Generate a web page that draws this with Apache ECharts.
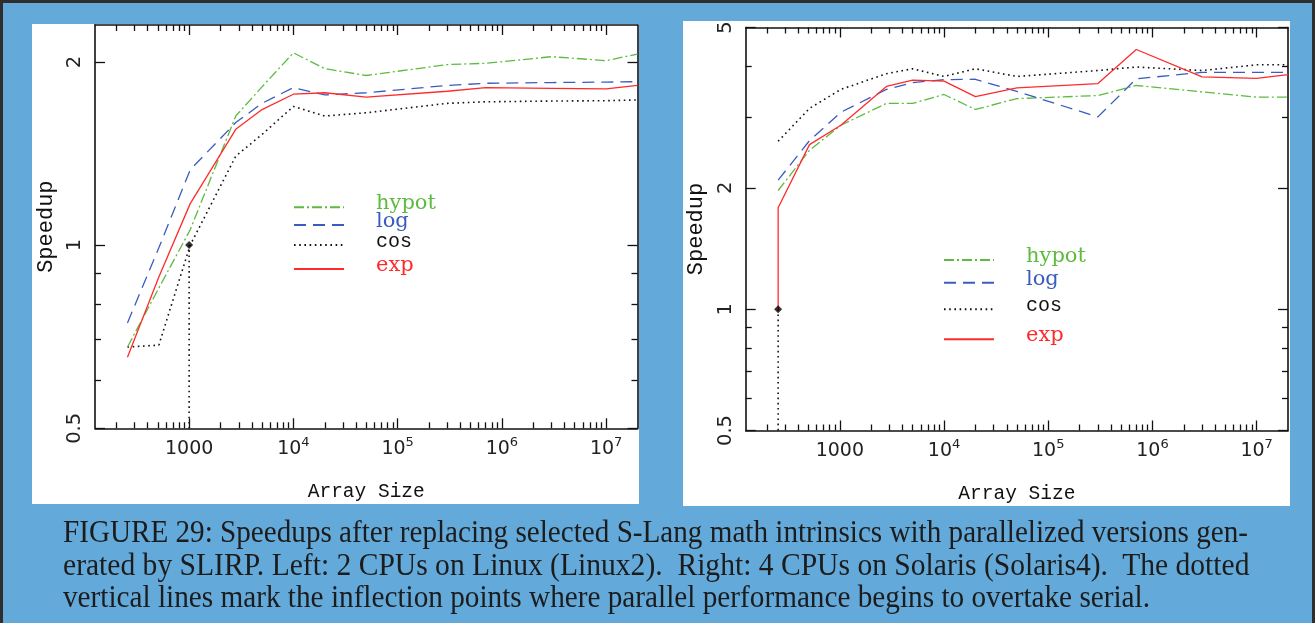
<!DOCTYPE html>
<html>
<head>
<meta charset="utf-8">
<script src="https://cdn.jsdelivr.net/npm/echarts@6/dist/echarts.min.js"></script>
<style>
html,body{margin:0;padding:0;}
body{width:1315px;height:623px;background:#63a9d9;position:relative;overflow:hidden;}
.edge{position:absolute;background:#2e2e2e;}
.panel{position:absolute;background:#ffffff;}
#chart{position:absolute;left:0;top:0;width:1315px;height:623px;}
.cap{position:absolute;left:63px;font-family:"Liberation Serif",serif;font-size:31px;line-height:31px;color:#1c1c1c;white-space:pre;transform-origin:0 0;}
</style>
</head>
<body>
<div class="edge" style="left:0;top:0;width:1315px;height:3px"></div>
<div class="edge" style="left:0;top:0;width:3px;height:623px"></div>
<div class="edge" style="right:0;top:0;width:3px;height:623px"></div>
<div class="panel" style="left:32px;top:24px;width:607px;height:480px"></div>
<div class="panel" style="left:683px;top:21px;width:607px;height:485px"></div>
<div id="chart"></div>
<div id="caption"></div>
<script>
// ---------------- data ----------------
const arraySizes = [256, 512, 1024, 2800, 5000, 10000, 20000, 50000, 300000, 700000, 3000000, 10000000, 20000000];

// Left: Linux2 (2 CPUs)
const linuxHypot = [0.68, 0.85, 1.06, 1.63, 1.82, 2.07, 1.95, 1.90, 1.98, 1.99, 2.04, 2.01, 2.06];
const linuxLog   = [0.745, 0.99, 1.33, 1.59, 1.71, 1.815, 1.765, 1.78, 1.83, 1.845, 1.85, 1.853, 1.856];
const linuxCos   = [0.68, 0.685, 1.0, 1.40, 1.52, 1.69, 1.63, 1.65, 1.71, 1.72, 1.725, 1.727, 1.732];
const linuxExp   = [0.654, 0.886, 1.17, 1.55, 1.67, 1.77, 1.78, 1.75, 1.79, 1.815, 1.81, 1.806, 1.83];
const linuxInflection = [1000, 1];

// Right: Solaris4 (4 CPUs)
const solarisHypot = [1.97, 2.48, 2.86, 3.24, 3.24, 3.41, 3.13, 3.33, 3.39, 3.59, 3.46, 3.36, 3.36];
const solarisLog   = [2.09, 2.62, 3.08, 3.51, 3.65, 3.71, 3.72, 3.47, 3.0, 3.73, 3.87, 3.87, 3.87];
const solarisCos   = [2.61, 3.15, 3.51, 3.84, 3.95, 3.78, 3.95, 3.78, 3.91, 3.99, 3.91, 4.04, 4.04];
const solarisExpSizes = [256, 256, 512, 1024, 2800, 5000, 10000, 20000, 50000, 300000, 700000, 3000000, 10000000, 20000000];
const solarisExp      = [1.0, 1.785, 2.56, 2.86, 3.57, 3.70, 3.68, 3.37, 3.54, 3.63, 4.41, 3.77, 3.74, 3.82];
const solarisInflection = [256, 1];

// ticks
const xMajorTicks  = [1000, 10000, 100000, 1000000, 10000000];
const xMajorLabels = ['1000', '10^4', '10^5', '10^6', '10^7'];
const xMinorMultipliers = [2, 3, 4, 5, 6, 7, 8, 9];
const xMinorDecades = [100, 1000, 10000, 100000, 1000000];
const linuxYMajor = [0.5, 1, 2];
const linuxYMinor = [0.6, 0.7, 0.8, 0.9];
const solarisYMajor = [0.5, 1, 2, 5];
const solarisYMinor = [0.6, 0.7, 0.8, 0.9, 3, 4];

const seriesNames = ['hypot', 'log', 'cos', 'exp'];
const captionLines = [
  'FIGURE 29: Speedups after replacing selected S-Lang math intrinsics with parallelized versions gen-',
  'erated by SLIRP. Left: 2 CPUs on Linux (Linux2).  Right: 4 CPUs on Solaris (Solaris4).  The dotted',
  'vertical lines mark the inflection points where parallel performance begins to overtake serial.'
];

// ---------------- layout / style ----------------
const X_MIN = 125, X_MAX = 20000000;
const LINUX_Y = [0.5, 2.3], SOLARIS_Y = [0.5, 5];
const AX = '#111111';
const STYLE = {
  hypot: {color: '#5dbb3f', width: 1.3, type: [10, 3, 2, 3], font: 'DejaVu Serif', size: 21},
  log:   {color: '#3a5cbf', width: 1.3, type: [12, 7], font: 'DejaVu Serif', size: 21},
  cos:   {color: '#111111', width: 1.6, type: [1.6, 3.6], font: 'Liberation Mono', size: 20},
  exp:   {color: '#ff2b2b', width: 1.3, type: 'solid', font: 'DejaVu Serif', size: 21}
};

const xMinorTicks = [];
xMinorDecades.forEach(d => xMinorMultipliers.forEach(m => xMinorTicks.push(m * d)));

function xFmt(v) {
  let idx = xMajorTicks.findIndex(t => Math.abs(t - v) / t < 1e-6);
  const s = idx >= 0 ? xMajorLabels[idx] : String(v);
  const p = s.split('^');
  return p.length > 1 ? '{b|' + p[0] + '}{s|' + p[1] + '}' : '{b|' + s + '}';
}

function makeX(grid, nameGap) {
  const base = {type: 'log', logBase: 10, min: X_MIN, max: X_MAX, gridIndex: grid,
    splitLine: {show: false}, minorTick: {show: false}, axisPointer: {show: false}, silent: true};
  const line = {show: true, onZero: false, lineStyle: {color: AX, width: 1.6}};
  const ts = {color: AX, width: 1.3};
  const major = {show: true, inside: true, length: 10, customValues: xMajorTicks, lineStyle: ts};
  const minor = {show: true, inside: true, length: 6, customValues: xMinorTicks, lineStyle: ts};
  return [
    Object.assign({}, base, {position: 'bottom', axisLine: line, axisTick: major,
      axisLabel: {show: true, customValues: xMajorTicks, margin: 8, formatter: xFmt,
        rich: {b: {fontFamily: 'DejaVu Sans', fontSize: 19, color: '#222', lineHeight: 26},
               s: {fontFamily: 'DejaVu Sans', fontSize: 13, color: '#222', verticalAlign: 'top', lineHeight: 15}}},
      name: 'Array Size', nameLocation: 'middle', nameGap: nameGap,
      nameTextStyle: {fontFamily: 'Liberation Mono', fontSize: 19.5, color: '#111'}}),
    Object.assign({}, base, {position: 'bottom', axisLine: {show: false, onZero: false}, axisTick: minor, axisLabel: {show: false}}),
    Object.assign({}, base, {position: 'top', axisLine: line, axisTick: major, axisLabel: {show: false}}),
    Object.assign({}, base, {position: 'top', axisLine: {show: false, onZero: false}, axisTick: minor, axisLabel: {show: false}})
  ];
}

function makeY(grid, range, majors, minors, nameGap) {
  const base = {type: 'log', logBase: 2, min: range[0], max: range[1], gridIndex: grid,
    splitLine: {show: false}, minorTick: {show: false}, axisPointer: {show: false}, silent: true};
  const line = {show: true, onZero: false, lineStyle: {color: AX, width: 1.6}};
  const ts = {color: AX, width: 1.3};
  const major = {show: true, inside: true, length: 10, customValues: majors, lineStyle: ts};
  const minor = {show: true, inside: true, length: 6, customValues: minors, lineStyle: ts};
  return [
    Object.assign({}, base, {position: 'left', axisLine: line, axisTick: major,
      axisLabel: {show: true, customValues: majors, rotate: 90, margin: 10,
        fontFamily: 'DejaVu Sans', fontSize: 19.5, color: '#222', formatter: v => String(v)},
      name: 'Speedup', nameLocation: 'middle', nameGap: nameGap,
      nameTextStyle: {fontFamily: 'Liberation Mono', fontSize: 22, color: '#111'}}),
    Object.assign({}, base, {position: 'left', axisLine: {show: false, onZero: false}, axisTick: minor, axisLabel: {show: false}}),
    Object.assign({}, base, {position: 'right', axisLine: line, axisTick: major, axisLabel: {show: false}}),
    Object.assign({}, base, {position: 'right', axisLine: {show: false, onZero: false}, axisTick: minor, axisLabel: {show: false}})
  ];
}

function lineSeries(name, sizes, vals, axisIdx) {
  const st = STYLE[name];
  return {type: 'line', name: name, xAxisIndex: axisIdx, yAxisIndex: axisIdx,
    data: sizes.map((s, i) => [s, vals[i]]), symbol: 'none', showSymbol: false,
    lineStyle: {color: st.color, width: st.width, type: st.type, cap: 'butt'},
    itemStyle: {color: st.color}, silent: true, emphasis: {disabled: true}};
}

function inflectionSeries(pt, yMin, axisIdx) {
  return [
    {type: 'line', name: '_drop', xAxisIndex: axisIdx, yAxisIndex: axisIdx,
      data: [[pt[0], pt[1]], [pt[0], yMin]], symbol: 'none',
      lineStyle: {color: '#111', width: 1.6, type: [1.6, 3.6]}, silent: true, emphasis: {disabled: true}},
    {type: 'scatter', name: '_mark', xAxisIndex: axisIdx, yAxisIndex: axisIdx,
      data: [pt], symbol: 'diamond', symbolSize: 8, itemStyle: {color: '#000'}, silent: true, z: 5}
  ];
}

function legendItem(name, left, lineY) {
  const st = STYLE[name];
  return {show: true, left: left, top: lineY - 20, padding: 0, itemWidth: 50, itemHeight: 50,
    selectedMode: false, orient: 'horizontal', itemStyle: {opacity: 0},
    formatter: n => n + '\n ',
    data: [{name: name, textStyle: {color: st.color, fontFamily: st.font, fontSize: st.size,
      lineHeight: 7, padding: [0, 0, 0, 27]}}]};
}

const leftLegendY = {hypot: 207.3, log: 225, cos: 245, exp: 269};
const rightLegendY = {hypot: 260, log: 282.7, cos: 309.3, exp: 339.3};

const legends = [];
seriesNames.forEach(n => legends.push(legendItem(n, 293, leftLegendY[n])));
seriesNames.forEach(n => legends.push(legendItem(n, 943, rightLegendY[n])));

const option = {
  animation: false,
  backgroundColor: 'transparent',
  tooltip: {show: false},
  grid: [
    {left: 95, top: 25, width: 542.5, height: 403.3, containLabel: false, outerBoundsMode: 'none'},
    {left: 745.7, top: 27.5, width: 542.3, height: 403, containLabel: false, outerBoundsMode: 'none'}
  ],
  xAxis: makeX(0, 54).concat(makeX(1, 53)),
  yAxis: makeY(0, LINUX_Y, linuxYMajor, linuxYMinor, 38).concat(makeY(1, SOLARIS_Y, solarisYMajor, solarisYMinor, 39)),
  legend: legends,
  series: [
    lineSeries('cos', arraySizes, linuxCos, 0),
    lineSeries('hypot', arraySizes, linuxHypot, 0),
    lineSeries('log', arraySizes, linuxLog, 0),
    lineSeries('exp', arraySizes, linuxExp, 0),
    ...inflectionSeries(linuxInflection, LINUX_Y[0], 0),
    lineSeries('cos', arraySizes, solarisCos, 4),
    lineSeries('hypot', arraySizes, solarisHypot, 4),
    lineSeries('log', arraySizes, solarisLog, 4),
    lineSeries('exp', solarisExpSizes, solarisExp, 4),
    ...inflectionSeries(solarisInflection, SOLARIS_Y[0], 4)
  ]
};

const chart = echarts.init(document.getElementById('chart'), null, {renderer: 'canvas'});
chart.setOption(option);

// caption
const capWidths = [1185, 1187, 1087];
const capBaselines = [541.7, 575, 606.7];
const capFont = 31;
const ctx = document.createElement('canvas').getContext('2d');
ctx.font = capFont + 'px "Liberation Serif"';
const capBox = document.getElementById('caption');
captionLines.forEach((t, i) => {
  const d = document.createElement('div');
  d.className = 'cap';
  d.textContent = t;
  d.style.top = (capBaselines[i] - 0.8375 * capFont) + 'px';
  const w = ctx.measureText(t).width;
  d.style.transform = 'scaleX(' + (capWidths[i] / w) + ')';
  capBox.appendChild(d);
});
</script>
</body>
</html>
